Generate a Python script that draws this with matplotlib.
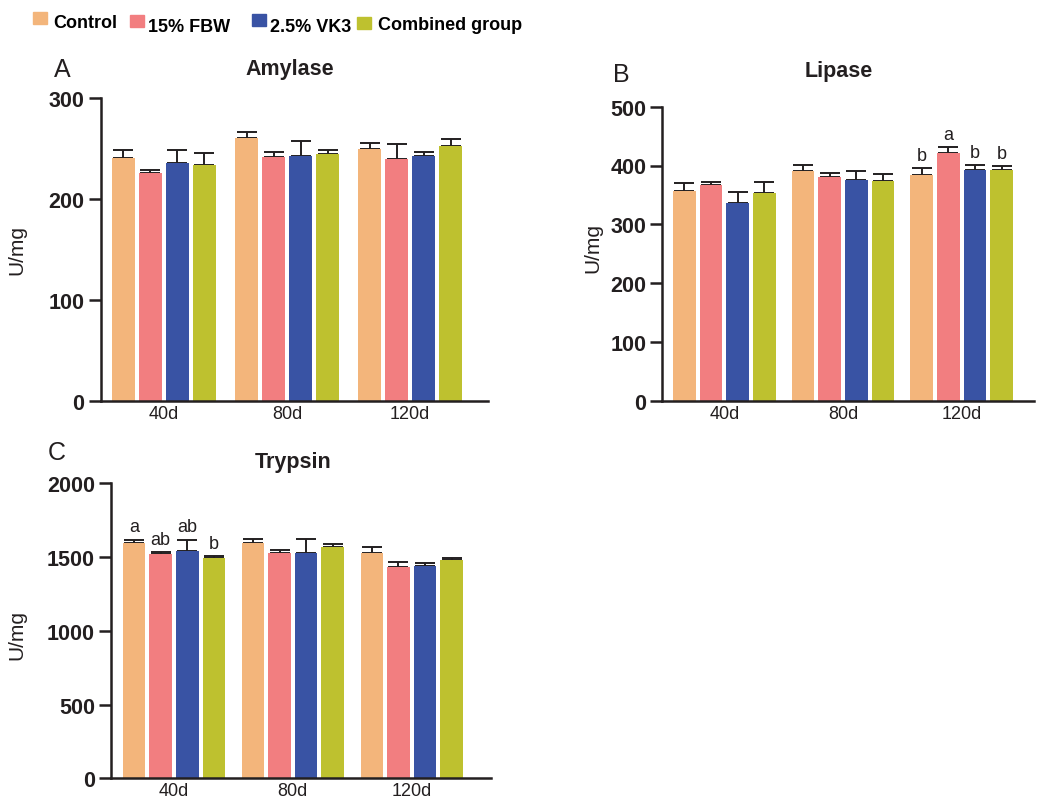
import numpy as np
import matplotlib
matplotlib.use("Agg")
import matplotlib.pyplot as plt
from matplotlib.patches import Rectangle

plt.rcParams["font.family"] = ["Liberation Sans", "DejaVu Sans"]

groups = ["40d", "80d", "120d"]
series = ["Control", "15% FBW", "2.5% VK3", "Combined group"]
colors = ["#F3B57B", "#F27E80", "#3953A4", "#BEC12F"]

# rows = series, columns = 40d / 80d / 120d
amylase_mean = [[241, 261, 250], [226, 242, 240], [236, 243, 243], [234, 245, 253]]
amylase_sd = [[8, 6, 6], [3, 5, 15], [13, 15, 4], [12, 4, 7]]

lipase_mean = [[357, 391, 384], [366, 380, 422], [336, 376, 392], [353, 374, 392]]
lipase_sd = [[13, 10, 11], [6, 7, 9], [19, 14, 9], [19, 11, 7]]
lipase_letters = [["", "", "b"], ["", "", "a"], ["", "", "b"], ["", "", "b"]]

trypsin_mean = [[1598, 1598, 1525], [1519, 1525, 1435], [1539, 1528, 1442], [1496, 1566, 1482]]
trypsin_sd = [[20, 27, 43], [14, 21, 34], [79, 97, 18], [11, 20, 12]]
trypsin_letters = [["a", "", ""], ["ab", "", ""], ["ab", "", ""], ["b", "", ""]]

W, H = 1041, 803
DARK = "#231f20"
fig = plt.figure(figsize=(W / 100, H / 100), dpi=100)


def px_rect(left, right, bottom, top):
    # pixel box -> figure fraction
    return [left / W, 1 - bottom / H, (right - left) / W, (bottom - top) / H]


def panel(box, mean, sd, ymax, ystep, gstep, xlim, letters=None):
    ax = fig.add_axes(px_rect(*box))
    centers = np.arange(len(groups)) * gstep
    for i, name in enumerate(series):
        x = centers + (i - 1.5)
        m = np.array(mean[i])
        e = np.array(sd[i])
        ax.bar(x, m, width=0.85, color=colors[i], zorder=2)
        ax.errorbar(x, m, yerr=[np.zeros_like(e), e], fmt="none",
                    ecolor=DARK, elinewidth=1.4, capsize=7, capthick=1.4, zorder=1)
        if letters is not None:
            for j in range(len(groups)):
                if letters[i][j]:
                    ax.annotate(letters[i][j], (x[j], m[j] + e[j]), xytext=(0, 3),
                                textcoords="offset points", ha="center", va="bottom",
                                fontsize=13, color=DARK)
    ax.set_xlim(*xlim)
    ax.set_ylim(0, ymax)
    ax.set_yticks(np.arange(0, ymax + 1, ystep))
    ax.set_xticks(centers)
    ax.set_xticklabels(groups, fontsize=13)
    for lab in ax.get_yticklabels():
        lab.set_fontweight("bold")
        lab.set_fontsize(15.5)
    ax.tick_params(axis="y", length=8.6, width=1.8, color=DARK, pad=3, labelcolor=DARK)
    ax.tick_params(axis="x", length=0, pad=3, labelcolor=DARK)
    for s in ["top", "right"]:
        ax.spines[s].set_visible(False)
    for s in ["left", "bottom"]:
        ax.spines[s].set_linewidth(1.8)
        ax.spines[s].set_color(DARK)
    ax.patch.set_alpha(0)
    return ax


panel((100.7, 488, 402, 99.3), amylase_mean, amylase_sd, 300, 100, 4.56, (-2.34, 12.0))
panel((662.3, 1034, 401.7, 107.7), lipase_mean, lipase_sd, 500, 100, 4.46, (-2.33, 11.64),
      lipase_letters)
panel((111, 490.7, 779.3, 484.3), trypsin_mean, trypsin_sd, 2000, 500, 4.47, (-2.37, 11.91),
      trypsin_letters)


def ftext(x, y, s, **kw):
    fig.text(x / W, 1 - y / H, s, color=DARK, **kw)


# titles, panel letters, axis labels
ftext(290, 70, "Amylase", fontsize=15.5, fontweight="bold", ha="center", va="center")
ftext(839, 72, "Lipase", fontsize=15.5, fontweight="bold", ha="center", va="center")
ftext(293, 463, "Trypsin", fontsize=15.5, fontweight="bold", ha="center", va="center")
ftext(62, 70, "A", fontsize=18, ha="center", va="center")
ftext(621, 75, "B", fontsize=18, ha="center", va="center")
ftext(57, 453, "C", fontsize=18, ha="center", va="center")
ftext(17, 250, "U/mg", fontsize=15, rotation=90, ha="center", va="center")
ftext(593, 248, "U/mg", fontsize=15, rotation=90, ha="center", va="center")
ftext(17, 635, "U/mg", fontsize=15, rotation=90, ha="center", va="center")

# legend across the top
leg_sq = [(33, 13), (130, 16), (252, 15), (357, 18)]
leg_txt = [(53, 28), (148, 32), (270, 32), (378, 30)]
for (sx, sy), (tx, ty), name, c in zip(leg_sq, leg_txt, series, colors):
    fig.patches.append(Rectangle((sx / W, 1 - (sy + 12) / H), 14 / W, 12 / H,
                                 transform=fig.transFigure, color=c))
    fig.text(tx / W, 1 - ty / H, name, fontsize=13, fontweight="bold",
             va="baseline", ha="left", color="black")

fig.savefig("out.png", dpi=100)
